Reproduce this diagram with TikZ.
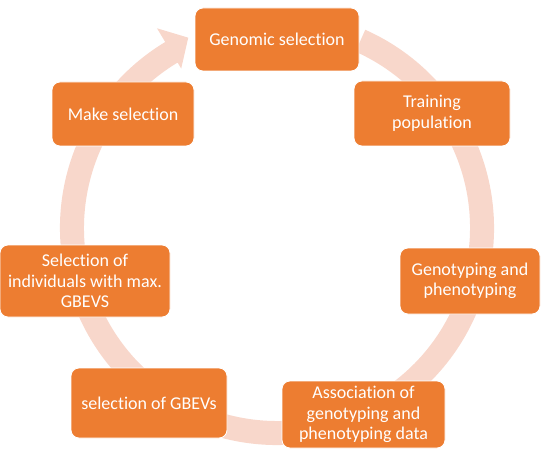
\documentclass[tikz,border=0pt]{standalone}
\usepackage{fontspec}
\setmainfont{Carlito}[Ligatures={NoCommon}]
\definecolor{boxorange}{HTML}{ED7D31}
\definecolor{ringpeach}{HTML}{F8D7CB}
\tikzset{stage/.style={draw=white, line width=0.8pt, fill=boxorange, rounded corners=8pt,
  text=white, align=center, inner sep=2pt, font=\fontsize{18}{20.5}\selectfont}}

\begin{document}
\begin{tikzpicture}[x=1pt, y=-1pt]

  \useasboundingbox (0,0) rectangle (546,457);

  \fill [ringpeach, shift={(277,228)}]
        (-66:217) arc [start angle=-66, end angle=239, radius=217]
        -- (239:233) -- (-115:210) -- (239:186) -- (239:193)
        arc [start angle=239, end angle=-66, radius=193] -- cycle;

  \node [stage, minimum width=164pt, minimum height=63pt] (genomic) at (277,39.5) {Genomic selection};
  \node [stage, minimum width=156pt, minimum height=65pt] (training) at (432,113.5) {Training\\population};
  \node [stage, minimum width=140pt, minimum height=66pt] (genopheno) at (470,281) {Genotyping and\\phenotyping};
  \node [stage, minimum width=163pt, minimum height=67pt] (association) at (363.5,414.5) {Association of\\genotyping and\\phenotyping data};
  \node [stage, minimum width=156pt, minimum height=70pt] (gbevs) at (149,403) {selection of GBEVs};
  \node [stage, minimum width=170pt, minimum height=72pt] (individuals) at (85,281) {Selection of\\individuals with max.\\GBEVS};
  \node [stage, minimum width=142pt, minimum height=64pt] (makesel) at (123,114) {Make selection};

\end{tikzpicture}
\end{document}
